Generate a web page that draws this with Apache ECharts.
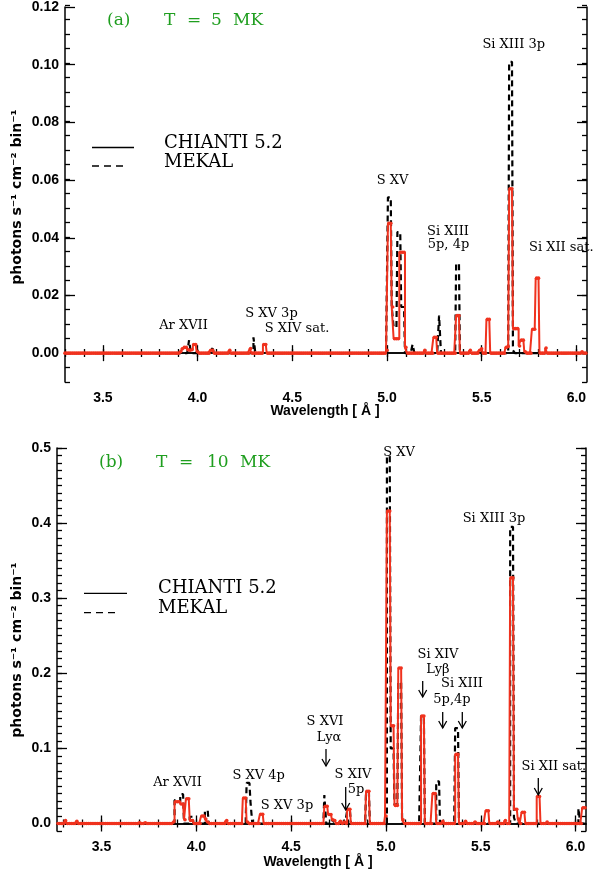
<!DOCTYPE html>
<html>
<head>
<meta charset="utf-8">
<script src="https://cdn.jsdelivr.net/npm/echarts@6/dist/echarts.min.js"></script>
<style>
  html, body { margin: 0; background: #fff; }
  #main { width: 594px; height: 874px; }
</style>
</head>
<body>
<div id="main"></div>
<script>
// spectra are binned at 0.01 A; only bins above the baseline are listed [wavelength, photons]
const rangeA = [3.30, 6.05]
const rangeB = [3.27, 6.05]

const chiantiA = [
  [3.91, 0.0005], [3.92, 0.0015], [3.93, 0.002], [3.94, 0.002], [3.95, 0.0012], [3.96, 0.001],
  [3.97, 0.0012], [3.98, 0.003], [3.99, 0.003], [4.00, 0.0005], [4.07, 0.001], [4.08, 0.001],
  [4.17, 0.001], [4.28, 0.0016], [4.35, 0.003], [4.36, 0.003],
  [5.00, 0.001], [5.01, 0.045], [5.02, 0.045], [5.03, 0.016], [5.04, 0.005], [5.05, 0.005],
  [5.06, 0.005], [5.07, 0.035], [5.08, 0.035], [5.09, 0.035], [5.10, 0.002], [5.20, 0.001],
  [5.25, 0.0055], [5.26, 0.0055], [5.37, 0.013], [5.38, 0.013], [5.44, 0.001], [5.49, 0.001],
  [5.50, 0.0015], [5.53, 0.0117], [5.54, 0.0117], [5.63, 0.002], [5.64, 0.0023], [5.65, 0.057],
  [5.66, 0.057], [5.67, 0.0085], [5.68, 0.0085], [5.69, 0.0085], [5.70, 0.0025], [5.71, 0.0045],
  [5.72, 0.0045], [5.73, 0.0005], [5.77, 0.0083], [5.78, 0.0083], [5.79, 0.026], [5.80, 0.026],
  [5.84, 0.0018], [6.03, 0.0005]
]
const mekalA = [
  [3.96, 0.0045], [4.00, 0.0015], [4.07, 0.0015], [4.08, 0.0015], [4.30, 0.0055],
  [5.01, 0.054], [5.02, 0.054], [5.03, 0.016], [5.04, 0.009], [5.05, 0.009], [5.06, 0.042],
  [5.07, 0.042], [5.08, 0.016], [5.09, 0.016], [5.14, 0.003], [5.28, 0.013], [5.37, 0.031],
  [5.38, 0.031], [5.65, 0.101], [5.66, 0.101], [5.67, 0.001]
]
const chiantiB = [
  [3.31, 0.004], [3.37, 0.003], [3.70, 0.001], [3.73, 0.001],
  [3.88, 0.002], [3.89, 0.029], [3.90, 0.029], [3.91, 0.029], [3.92, 0.026], [3.93, 0.026],
  [3.94, 0.005], [3.95, 0.033], [3.96, 0.033], [3.97, 0.004], [3.98, 0.004],
  [4.03, 0.010], [4.04, 0.010], [4.05, 0.006], [4.06, 0.002], [4.16, 0.004], [4.25, 0.034],
  [4.26, 0.034], [4.27, 0.002], [4.34, 0.0124], [4.35, 0.0124],
  [4.68, 0.023], [4.69, 0.023], [4.70, 0.012], [4.71, 0.012], [4.72, 0.005], [4.73, 0.004],
  [4.76, 0.003], [4.78, 0.002], [4.80, 0.019], [4.81, 0.019], [4.90, 0.043], [4.91, 0.043],
  [5.00, 0.01], [5.01, 0.416], [5.02, 0.416], [5.03, 0.13], [5.04, 0.13], [5.05, 0.024],
  [5.06, 0.024], [5.07, 0.207], [5.08, 0.207], [5.09, 0.005], [5.19, 0.143], [5.20, 0.143],
  [5.25, 0.04], [5.26, 0.04], [5.30, 0.003], [5.37, 0.092], [5.38, 0.092], [5.42, 0.003],
  [5.47, 0.002], [5.53, 0.017], [5.54, 0.017], [5.59, 0.002], [5.63, 0.004], [5.66, 0.327],
  [5.67, 0.327], [5.68, 0.019], [5.69, 0.019], [5.70, 0.006], [5.72, 0.015], [5.73, 0.015],
  [5.80, 0.036], [5.81, 0.036], [5.85, 0.002], [6.04, 0.021], [6.05, 0.021]
]
const mekalB = [
  [3.31, 0.005], [3.89, 0.031], [3.90, 0.031], [3.91, 0.029], [3.92, 0.039], [3.93, 0.039],
  [3.97, 0.009], [3.98, 0.009], [4.05, 0.017], [4.06, 0.017], [4.27, 0.054], [4.28, 0.054],
  [4.29, 0.03], [4.68, 0.038], [4.72, 0.006], [4.73, 0.002], [4.78, 0.006], [4.80, 0.017],
  [4.81, 0.017], [4.90, 0.042], [4.91, 0.042], [5.01, 0.489], [5.02, 0.489], [5.03, 0.10],
  [5.04, 0.10], [5.05, 0.025], [5.06, 0.025], [5.07, 0.188], [5.08, 0.188], [5.19, 0.143],
  [5.20, 0.143], [5.27, 0.056], [5.28, 0.056], [5.37, 0.127], [5.38, 0.127], [5.66, 0.395],
  [5.67, 0.395], [5.68, 0.008], [6.02, 0.02]
]

const xMajor = [3.5, 4.0, 4.5, 5.0, 5.5, 6.0]
const yMajorA = [0, 0.02, 0.04, 0.06, 0.08, 0.10, 0.12]
const yMajorB = [0, 0.1, 0.2, 0.3, 0.4, 0.5]

function ticksBetween(from, to, step) {
  const out = []
  for (let k = Math.round(from / step); k * step <= to + 1e-9; k++) out.push(+(k * step).toFixed(4))
  return out
}
const xMinor = ticksBetween(3.3, 6.05, 0.1)
const yMinorA = ticksBetween(-0.01, 0.12, 0.005)
const yMinorB = ticksBetween(-0.01, 0.5, 0.01)

// histogram bins: baseline is zero except for the listed lines
function bins(lines, range) {
  const lookup = {}
  lines.forEach(([w, v]) => { lookup[Math.round(w * 100)] = v })
  const out = []
  for (let k = Math.round(range[0] * 100); k <= Math.round(range[1] * 100); k++) {
    out.push([k / 100, lookup[k] || 0])
  }
  return out
}

const RED = '#f0321e'
const labelFont = { fontFamily: 'Liberation Sans', fontWeight: 'bold', fontSize: 14, color: '#000' }
const frame = { show: true, lineStyle: { color: '#000', width: 1.5 } }

const panels = [
  { top: 5, bottom: 492, left: 65, right: 7, xr: [3.3, 6.056], yr: [-0.01, 0.12], yMajor: yMajorA, yMinor: yMinorA, dec: 2 },
  { top: 448, bottom: 43, left: 57, right: 8, xr: [3.265, 6.055], yr: [-0.01, 0.5], yMajor: yMajorB, yMinor: yMinorB, dec: 1 }
]

const grid = [], xAxis = [], yAxis = []
panels.forEach(p => {
  // one grid carries the frame + major ticks, a twin grid carries the minor ticks
  for (let twin = 0; twin < 2; twin++) {
    const gi = grid.length
    grid.push({ top: p.top, bottom: p.bottom, left: p.left, right: p.right })
    const major = twin === 0
    ;['bottom', 'top'].forEach(pos => {
      xAxis.push({
        type: 'value', gridIndex: gi, position: pos, min: p.xr[0], max: p.xr[1],
        axisLine: major ? frame : { show: false },
        axisTick: { inside: true, length: major ? 8 : 4, customValues: major ? xMajor : xMinor, lineStyle: { color: '#000', width: 1.3 } },
        axisLabel: major && pos === 'bottom'
          ? Object.assign({ customValues: xMajor, margin: 9, formatter: v => v.toFixed(1) }, labelFont)
          : { show: false },
        splitLine: { show: false }
      })
    })
    ;['left', 'right'].forEach(pos => {
      yAxis.push({
        type: 'value', gridIndex: gi, position: pos, min: p.yr[0], max: p.yr[1],
        axisLine: major ? frame : { show: false },
        axisTick: { inside: true, length: major ? 10 : 5, customValues: major ? p.yMajor : p.yMinor, lineStyle: { color: '#000', width: 1.3 } },
        axisLabel: major && pos === 'left'
          ? Object.assign({ customValues: p.yMajor, margin: 6, formatter: v => v.toFixed(p.dec) }, labelFont)
          : { show: false },
        splitLine: { show: false }
      })
    })
  }
})

function mekal(data, axis) {
  return {
    name: 'MEKAL', type: 'line', step: 'middle', xAxisIndex: axis, yAxisIndex: axis,
    data: data, showSymbol: false, z: 2, silent: true,
    lineStyle: { color: '#000', width: 2.2, type: [6, 4] }
  }
}
function chianti(data, axis) {
  return {
    name: 'CHIANTI 5.2', type: 'line', step: 'middle', xAxisIndex: axis, yAxisIndex: axis,
    data: data, symbol: 'circle', symbolSize: 3.6, showAllSymbol: true, z: 3, silent: true,
    itemStyle: { color: RED }, lineStyle: { color: RED, width: 2 }
  }
}

const serif = 'DejaVu Serif'
function txt(text, x, y, size, opts) {
  opts = opts || {}
  return {
    type: 'text', x: x, y: y, rotation: opts.rot || 0, z: 10,
    style: {
      text: text, fontFamily: opts.family || serif, fontSize: size, fontWeight: opts.weight || 'normal',
      fill: opts.color || '#000', align: opts.align || 'center', verticalAlign: 'middle',
      textAlign: opts.align || 'center', textVerticalAlign: 'middle'
    }
  }
}
function seg(x1, y1, x2, y2, dash) {
  return { type: 'line', z: 10, shape: { x1: x1, y1: y1, x2: x2, y2: y2 }, style: { stroke: '#000', lineWidth: 1.3, lineDash: dash || null } }
}
function arrow(x, y1, y2) {
  return [
    seg(x, y1, x, y2),
    { type: 'polyline', z: 10, shape: { points: [[x - 4, y2 - 7], [x, y2], [x + 4, y2 - 7]] }, style: { stroke: '#000', lineWidth: 1.3, fill: null } }
  ]
}
// panel heading, word by word as the original spaces them widely
function heading(words, y) {
  return words.map(([w, x]) => txt(w, x, y, 17, { align: 'left', color: '#1f9e1f' }))
}

const yTitle = 'photons s⁻¹ cm⁻² bin⁻¹'
const graphic = [
  // panel (a)
  seg(92, 147.5, 134, 147.5), seg(92, 166, 128, 166, [7, 5]),
  txt('CHIANTI 5.2', 164, 143, 18, { align: 'left' }),
  txt('MEKAL', 164, 162, 18, { align: 'left' }),
  txt('Ar XVII', 183.5, 326, 13), txt('S XV 3p', 271.5, 314, 13), txt('S XIV sat.', 297, 329, 13),
  txt('S XV', 392.5, 181, 13), txt('Si XIII 3p', 513.7, 45, 13),
  txt('Si XIII', 448, 232, 13), txt('5p, 4p', 448.5, 245, 13), txt('Si XII sat.', 529, 248, 13, { align: 'left' }),
  txt('Wavelength [ Å ]', 325, 411, 14, { family: 'Liberation Sans', weight: 'bold' }),
  txt(yTitle, 17, 197, 14, { family: 'DejaVu Sans', weight: 'bold', rot: Math.PI / 2 }),
  // panel (b)
  seg(84, 593.3, 127, 593.3), seg(84, 612.7, 120, 612.7, [7, 5]),
  txt('CHIANTI 5.2', 158, 588, 18, { align: 'left' }),
  txt('MEKAL', 158, 608, 18, { align: 'left' }),
  txt('S XV', 399, 453, 13), txt('Si XIII 3p', 494, 519, 13),
  txt('Si XIV', 438, 655, 13), txt('Lyβ', 438, 670, 13),
  txt('Si XIII', 462, 684, 13), txt('5p,4p', 452, 700, 13),
  txt('S XVI', 325, 722, 13), txt('Lyα', 329, 738, 13),
  txt('S XIV', 353, 775, 13), txt('5p', 356, 790, 13),
  txt('S XV 3p', 287, 806, 13), txt('S XV 4p', 258.7, 776, 13), txt('Ar XVII', 177.5, 783, 13),
  txt('Si XII sat.', 553.8, 767, 13),
  txt('Wavelength [ Å ]', 318, 862, 14, { family: 'Liberation Sans', weight: 'bold' }),
  txt(yTitle, 17, 650, 14, { family: 'DejaVu Sans', weight: 'bold', rot: Math.PI / 2 })
].concat(
  heading([['(a)', 107], ['T', 164], ['=', 187], ['5', 211], ['MK', 233]], 21),
  heading([['(b)', 99], ['T', 156], ['=', 179], ['10', 207], ['MK', 240]], 463),
  arrow(422.7, 681, 697), arrow(442.7, 712, 728), arrow(462.3, 712, 728),
  arrow(326, 749, 766), arrow(345.7, 787, 810), arrow(538.3, 778, 795)
)

const chart = echarts.init(document.getElementById('main'), null, { renderer: 'canvas' })
chart.setOption({
  animation: false,
  backgroundColor: '#fff',
  grid: grid,
  xAxis: xAxis,
  yAxis: yAxis,
  series: [
    mekal(bins(mekalA, rangeA), 0),
    chianti(bins(chiantiA, rangeA), 0),
    mekal(bins(mekalB, rangeB), 4),
    chianti(bins(chiantiB, rangeB), 4)
  ],
  graphic: graphic
})
</script>
</body>
</html>
